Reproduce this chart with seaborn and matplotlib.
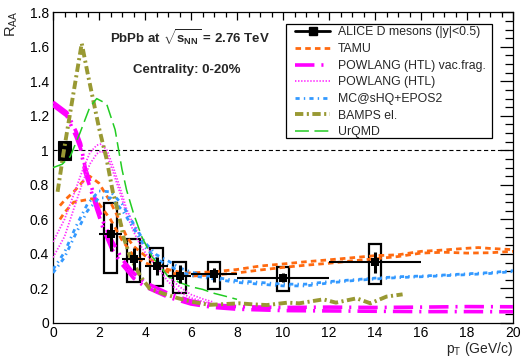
import matplotlib
matplotlib.use("Agg")
import matplotlib.pyplot as plt
from matplotlib.patches import Rectangle
from matplotlib.lines import Line2D
from matplotlib.ticker import MultipleLocator, FormatStrFormatter
import pandas as pd
import seaborn as sns

# ALICE prompt D-meson R_AA, PbPb 0-20%
alice_pt = [2.5, 3.5, 4.5, 5.5, 7.0, 10.0, 14.0]
alice_pt_lo = [2.0, 3.0, 4.0, 5.0, 6.0, 8.0, 12.0]
alice_pt_hi = [3.0, 4.0, 5.0, 6.0, 8.0, 12.0, 16.0]
alice_raa = [0.514, 0.371, 0.330, 0.272, 0.282, 0.263, 0.355]
alice_stat_lo = [0.42, 0.307, 0.278, 0.230, 0.239, 0.239, 0.288]
alice_stat_hi = [0.58, 0.433, 0.384, 0.336, 0.320, 0.288, 0.413]
alice_sys_lo = [0.291, 0.239, 0.214, 0.176, 0.197, 0.187, 0.226]
alice_sys_hi = [0.697, 0.485, 0.433, 0.355, 0.355, 0.323, 0.456]
norm_unc = 0.055

# TAMU band
tamu_hi_pt = [0.3, 0.5, 0.9, 1.3, 1.6, 2.0, 2.5, 2.8, 3.2, 3.5, 4.0, 4.5, 5.0, 5.5, 6.0,
              7.0, 8.0, 9.0, 10.0, 11.0, 12.0, 13.0, 14.0, 15.0, 16.0, 17.0, 18.0, 18.5, 19.0, 20.0]
tamu_hi = [0.68, 0.71, 0.76, 0.82, 0.85, 0.81, 0.70, 0.62, 0.50, 0.445, 0.39, 0.345, 0.31, 0.295, 0.29,
           0.297, 0.31, 0.33, 0.342, 0.355, 0.366, 0.378, 0.39, 0.395, 0.415, 0.423, 0.433, 0.437, 0.432, 0.425]
tamu_lo_pt = [0.3, 0.5, 0.9, 1.3, 1.7, 2.0, 2.5, 3.0, 3.5, 4.0, 4.5, 5.0, 5.5, 6.0,
              7.0, 8.0, 9.0, 10.0, 11.0, 12.0, 13.0, 14.0, 15.0, 16.0, 17.0, 18.0, 19.0, 20.0]
tamu_lo = [0.60, 0.64, 0.70, 0.71, 0.72, 0.69, 0.60, 0.48, 0.39, 0.35, 0.32, 0.295, 0.28, 0.272,
           0.278, 0.29, 0.307, 0.322, 0.335, 0.346, 0.36, 0.372, 0.385, 0.405, 0.41, 0.405, 0.407, 0.415]

# POWLANG (HTL) with vacuum fragmentation
vac_pt = [0.0, 0.6, 1.0, 1.2, 1.4, 1.6, 1.9, 2.2, 2.55, 2.8, 3.0, 3.5, 4.0, 5.0, 6.0,
          7.0, 8.0, 10.0, 12.0, 14.0, 16.0, 18.0, 20.0]
vac_hi = [1.28, 1.22, 1.11, 1.04, 0.90, 0.82, 0.69, 0.58, 0.48, 0.42, 0.37, 0.29, 0.235, 0.172, 0.128,
          0.105, 0.095, 0.09, 0.092, 0.09, 0.092, 0.095, 0.094]
vac_lo = [1.26, 1.20, 1.08, 1.01, 0.87, 0.79, 0.66, 0.54, 0.43, 0.38, 0.34, 0.26, 0.21, 0.15, 0.11,
          0.09, 0.08, 0.072, 0.07, 0.068, 0.066, 0.066, 0.065]

# POWLANG (HTL)
htl_pt = [0.0, 0.5, 1.0, 1.3, 1.6, 1.9, 2.1, 2.35, 2.6, 2.9, 3.2, 3.5, 3.8, 4.1, 4.5,
          5.0, 5.5, 6.0, 6.5, 7.0]
htl_hi = [0.47, 0.60, 0.78, 0.89, 0.985, 1.03, 1.037, 1.0, 0.91, 0.79, 0.66, 0.57, 0.50, 0.44, 0.36,
          0.27, 0.21, 0.165, 0.14, 0.12]
htl_lo = [0.38, 0.50, 0.70, 0.82, 0.92, 0.98, 0.997, 0.97, 0.88, 0.76, 0.63, 0.53, 0.45, 0.39, 0.33,
          0.24, 0.18, 0.145, 0.125, 0.11]

# MC@sHQ+EPOS2
mc_pt = [0.0, 0.5, 1.0, 1.5, 2.0, 2.5, 3.0, 3.5, 4.0, 4.5, 5.0, 5.5, 6.0, 7.0, 8.0, 9.0, 10.0,
         11.0, 12.0, 13.0, 14.0, 15.0, 16.0, 17.0, 18.0, 19.0, 20.0]
mc_hi = [0.31, 0.41, 0.56, 0.69, 0.765, 0.76, 0.69, 0.575, 0.465, 0.395, 0.36, 0.32, 0.295, 0.265,
         0.245, 0.235, 0.225, 0.225, 0.24, 0.25, 0.26, 0.268, 0.272, 0.278, 0.285, 0.292, 0.303]
mc_lo = [0.29, 0.38, 0.52, 0.65, 0.725, 0.725, 0.655, 0.55, 0.44, 0.37, 0.335, 0.30, 0.275, 0.255,
         0.235, 0.225, 0.215, 0.215, 0.232, 0.245, 0.255, 0.263, 0.268, 0.274, 0.28, 0.287, 0.298]

# BAMPS el.
bamps_pt = [0.2, 0.45, 0.7, 0.95, 1.25, 1.5, 1.75, 2.0, 2.33, 2.6, 2.85, 3.06, 3.35, 3.8, 4.2, 4.8,
            5.4, 6.0, 6.8, 7.5, 8.1, 8.7, 9.3, 10.2, 10.7, 11.75, 12.3, 13.2, 13.8, 14.5, 15.2]
bamps = [0.76, 0.98, 1.18, 1.38, 1.62, 1.45, 1.29, 1.13, 0.95, 0.76, 0.635, 0.50, 0.385, 0.27, 0.20, 0.17,
         0.145, 0.124, 0.105, 0.11, 0.114, 0.108, 0.104, 0.118, 0.114, 0.137, 0.118, 0.143, 0.114, 0.153, 0.166]

# UrQMD
urqmd_pt = [0.0, 0.4, 0.75, 1.17, 1.6, 1.9, 2.33, 2.7, 3.0, 3.2, 3.5, 3.86, 4.3, 4.8, 5.0, 5.5,
            6.0, 6.5, 7.0, 7.5, 8.0]
urqmd = [0.90, 0.92, 0.965, 1.10, 1.25, 1.30, 1.27, 1.12, 0.89, 0.77, 0.635, 0.50, 0.385, 0.305, 0.27,
         0.235, 0.21, 0.195, 0.172, 0.155, 0.137]

x_ticks = [0, 2, 4, 6, 8, 10, 12, 14, 16, 18, 20]
y_ticks = [0, 0.2, 0.4, 0.6, 0.8, 1.0, 1.2, 1.4, 1.6, 1.8]

sns.set_style("white")
plt.rcParams["font.family"] = ["Liberation Sans", "DejaVu Sans"]
plt.rcParams["mathtext.fontset"] = "custom"
plt.rcParams["mathtext.rm"] = "Liberation Sans"
plt.rcParams["mathtext.it"] = "Liberation Sans:italic"
plt.rcParams["mathtext.bf"] = "Liberation Sans:bold"
plt.rcParams["lines.scale_dashes"] = False

W, H = 521, 357
fig = plt.figure(figsize=(W / 100, H / 100), dpi=100)
fig.patch.set_facecolor("white")
ax = fig.add_axes([53 / W, 1 - 323 / H, 460 / W, 310.7 / H])
ax.set_facecolor("white")

# systematic boxes
box_hw = 0.27
for x, lo, hi in zip(alice_pt, alice_sys_lo, alice_sys_hi):
    ax.add_patch(Rectangle((x - box_hw, lo), 2 * box_hw, hi - lo, fill=False,
                           edgecolor="black", lw=1.6, zorder=2))
# normalisation uncertainty
ax.add_patch(Rectangle((0.5 - box_hw, 1 - norm_unc), 2 * box_hw, 2 * norm_unc,
                       facecolor="black", edgecolor="black", lw=0.8, zorder=2))

ax.axhline(1.0, color="black", lw=0.8, linestyle=(0, (3, 2)), zorder=1)

styles = {
    "tamu": dict(color="#ff6a10", lw=2.0, linestyle=(0, (4, 3))),
    "vac": dict(color="#ff00ff", lw=2.6, linestyle=(0, (14, 5, 1.5, 5))),
    "htl": dict(color="#ff33ff", lw=1.3, linestyle=(0, (1, 1.2))),
    "mc": dict(color="#3399ff", lw=2.0, linestyle=(0, (3, 3, 1, 3))),
    "bamps": dict(color="#999933", lw=2.8, linestyle=(0, (6, 2.5, 1.5, 2.5))),
    "urqmd": dict(color="#22cc22", lw=1.1, linestyle=(0, (10, 4))),
}


def curve(xs, ys, key):
    df = pd.DataFrame({"pt": xs, "raa": ys})
    sns.lineplot(data=df, x="pt", y="raa", ax=ax, estimator=None, sort=False,
                 zorder=3, **styles[key])


curve(tamu_hi_pt, tamu_hi, "tamu")
curve(tamu_lo_pt, tamu_lo, "tamu")
curve(vac_pt, vac_hi, "vac")
curve(vac_pt, vac_lo, "vac")
curve(htl_pt, htl_hi, "htl")
curve(htl_pt, htl_lo, "htl")
curve(mc_pt, mc_hi, "mc")
curve(mc_pt, mc_lo, "mc")
curve(bamps_pt, bamps, "bamps")
curve(urqmd_pt, urqmd, "urqmd")

# data points with statistical errors
xerr = [[x - a for x, a in zip(alice_pt, alice_pt_lo)], [b - x for x, b in zip(alice_pt, alice_pt_hi)]]
yerr = [[y - a for y, a in zip(alice_raa, alice_stat_lo)], [b - y for y, b in zip(alice_raa, alice_stat_hi)]]
ax.errorbar(alice_pt, alice_raa, xerr=xerr, fmt="none", ecolor="black", elinewidth=1.5, capsize=0, zorder=4)
ax.errorbar(alice_pt, alice_raa, yerr=yerr, fmt="none", ecolor="black", elinewidth=2.2, capsize=0, zorder=4)
sns.scatterplot(x=alice_pt, y=alice_raa, ax=ax, marker="s", s=28, color="black",
                edgecolor="black", linewidth=0, zorder=5)

ax.set_xlim(0, 20)
ax.set_ylim(0, 1.8)
ax.set_xticks(x_ticks)
ax.set_yticks(y_ticks)
ax.xaxis.set_minor_locator(MultipleLocator(0.5))
ax.yaxis.set_minor_locator(MultipleLocator(0.05))
ax.yaxis.set_major_formatter(FormatStrFormatter("%g"))
ax.xaxis.set_major_formatter(FormatStrFormatter("%g"))
ax.tick_params(which="both", direction="in", top=True, right=True, colors="black",
               labelsize=10, width=0.9)
ax.tick_params(axis="y", which="major", length=9.5, pad=3)
ax.tick_params(axis="y", which="minor", length=5.5)
ax.tick_params(axis="x", which="major", length=5.5, pad=2.5)
ax.tick_params(axis="x", which="minor", length=3.5)
for sp in ax.spines.values():
    sp.set_color("black")
    sp.set_linewidth(0.9)
ax.set_xlabel("")
ax.set_ylabel("")

fig.text(513 / W, 1 - 352.5 / H, r"p$_{\rm T}$ (GeV/c)", ha="right", va="baseline", fontsize=10)
fig.text(12 / W, 1 - 11 / H, r"R$_{\rm AA}$", rotation=90, ha="center", va="top", fontsize=10.5)

fig.text(110 / W, 1 - 38 / H, r"PbPb at $\mathbf{\sqrt{s_{NN}}}$ = 2.76 TeV", ha="left",
         va="center", fontsize=9.5, fontweight="bold")
fig.text(133 / W, 1 - 70 / H, "Centrality: 0-20%", ha="left", va="center",
         fontsize=9.5, fontweight="bold")

# legend
ax_w, ax_h = 460.0, 310.7
def ax_x(px):
    return (px - 53) / ax_w
def ax_y(py):
    return (323 - py) / ax_h

frame = Rectangle((ax_x(286), ax_y(138)), ax_x(492) - ax_x(286), ax_y(24) - ax_y(138),
                  transform=ax.transAxes, facecolor="white", edgecolor="black", lw=0.9, zorder=6)
ax.add_patch(frame)

handles = [
    Line2D([], [], color="black", lw=2.0, marker="s", markersize=5.5),
    Line2D([], [], **styles["tamu"]),
    Line2D([], [], **styles["vac"]),
    Line2D([], [], **styles["htl"]),
    Line2D([], [], **styles["mc"]),
    Line2D([], [], **styles["bamps"]),
    Line2D([], [], **styles["urqmd"]),
]
labels = ["ALICE D mesons (|y|<0.5)", "TAMU", "POWLANG (HTL) vac.frag.", "POWLANG (HTL)",
          "MC@sHQ+EPOS2", "BAMPS el.", "UrQMD"]
leg = ax.legend(handles, labels, loc="upper left", bbox_to_anchor=(ax_x(295), ax_y(26.5)),
                frameon=False, fontsize=8.8, handlelength=2.9, handletextpad=0.6,
                labelspacing=0.38, borderpad=0, borderaxespad=0)
leg.set_zorder(7)

fig.savefig("out.png", dpi=100, facecolor="white")
